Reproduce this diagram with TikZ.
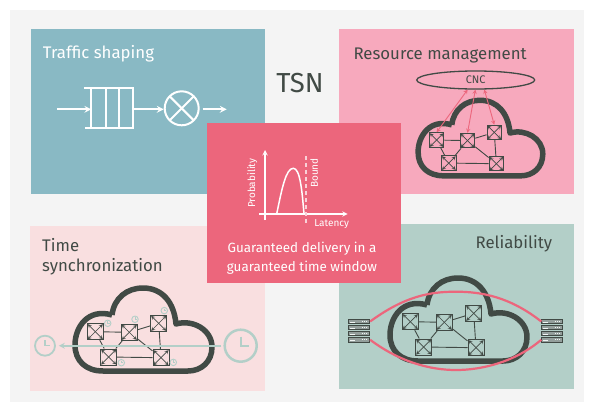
\documentclass[tikz,border=0pt]{standalone}
\usepackage{fontspec}
\setmainfont{Fira Sans}
\usetikzlibrary{shapes.geometric, arrows}
\definecolor{bgGray}{HTML}{F4F4F4}
\definecolor{tealBlue}{HTML}{89B9C4}
\definecolor{rosePink}{HTML}{F7A9BD}
\definecolor{coralRed}{HTML}{EC667C}
\definecolor{palePink}{HTML}{F9DFE0}
\definecolor{sageGreen}{HTML}{B3CFC8}
\definecolor{darkSlate}{HTML}{414A45}
\tikzstyle{arrow} = [line width=2pt,->,>=stealth]
\tikzstyle{title} = [font=\fontsize{16.8}{20}\selectfont,inner sep=0pt]
\tikzstyle{small} = [font=\fontsize{10}{12}\selectfont,inner sep=0pt,text=white]
\tikzstyle{switchbox} = [draw=darkSlate,line width=1pt,minimum size=16pt,inner sep=0pt,
	path picture={\draw[darkSlate,line width=0.7pt,<->,>=stealth,shorten >=0.6pt,shorten <=0.6pt]
		(path picture bounding box.north west) -- (path picture bounding box.south east);
		\draw[darkSlate,line width=0.7pt,<->,>=stealth,shorten >=0.6pt,shorten <=0.6pt]
		(path picture bounding box.north east) -- (path picture bounding box.south west);}]
\tikzstyle{link} = [darkSlate,line width=0.9pt]
\tikzstyle{cnclink} = [coralRed,line width=0.9pt,<->,>=stealth]
\tikzstyle{clock} = [circle,draw=sageGreen,inner sep=0pt]
\tikzstyle{rackbar} = [draw=darkSlate,fill=gray!60!sageGreen,line width=0.9pt,minimum width=21pt,minimum height=4.4pt,inner sep=0pt]
\tikzstyle{redundant} = [coralRed,line width=2.2pt]

\newcommand{\tsncloud}[4]{
	\begin{scope}[shift={(#2,#3)},scale=#4,transform shape]
		\draw [darkSlate,line width=5.5pt,line join=round] (-31,-15) .. controls (-29,-32) and (-16,-42) .. (0,-42)
			.. controls (19,-42) and (31,-28) .. (33,-6)
			.. controls (50,-11) and (69,0) .. (69,17)
			.. controls (69,32) and (58,41) .. (45,41) -- (-40,41)
			.. controls (-57,41) and (-68,31) .. (-68,15)
			.. controls (-68,-3) and (-55,-22) .. (-31,-15);
		\node [switchbox] (#1a) at (-47.7,1.7) {};
		\node [switchbox] (#1b) at (-13.7,2.3) {};
		\node [switchbox] (#1c) at (15.7,-6.7) {};
		\node [switchbox] (#1d) at (-34.3,27) {};
		\node [switchbox] (#1e) at (18,27.7) {};
		\draw [link] (#1a) -- (#1b);
		\draw [link] (#1b) -- (#1c);
		\draw [link] (#1a) -- (#1d);
		\draw [link] (#1b) -- (#1d);
		\draw [link] (#1b) -- (#1e);
		\draw [link] (#1d) -- (#1e);
		\draw [link] (#1c) -- (#1e);
	\end{scope}
}
\newcommand{\smallclock}[3]{
	\node [clock,line width=0.9pt,minimum size=6.5pt] (#1) at (#2,#3) {};
	\draw [sageGreen,line width=0.5pt] (#1.center) ++(0,-2) -- (#1.center) -- ++(1.8,0);
}
\newcommand{\rackstack}[2]{
	\foreach \i/\yy in {1/0,2/6.1,3/12.2,4/18.3} {
		\node [rackbar] (#1\i) at (#2,321.5+\yy) {};
		\fill [white!80!sageGreen] (#1\i.west) ++(2,0) rectangle ++(5,0.6);
		\foreach \dd in {14,16,18}
			\fill [white!80!sageGreen] (#1\i.west) ++(\dd,-0.5) rectangle ++(1,1);
	}
}

\begin{document}
\begin{tikzpicture}[x=1pt,y=-1pt]
	\useasboundingbox (0,0) rectangle (590,402);
	\fill [bgGray] (10,10) rectangle (584,402);
	\fill [tealBlue] (31,29) rectangle (265,194);
	\fill [rosePink] (339,29) rectangle (574,194);
	\fill [palePink] (30,226) rectangle (265,391);
	\fill [sageGreen] (339,224) rectangle (574,389);

	\node [title,anchor=west,text=white] (shapingtitle) at (42.7,53.7) {Traffic shaping};
	\coordinate (inleft) at (57.3,109.3);
	\node [minimum width=41pt,minimum height=39pt,inner sep=0pt] (queue) at (112,108) {};
	\draw [white,line width=2pt] (queue.north west) ++(-7,0) -- (queue.north east) -- (queue.south east) -- ++(-48,0);
	\draw [white,line width=2pt] (queue.north west) -- (queue.south west);
	\draw [white,line width=2pt] (105.7,88.5) -- (105.7,127.5);
	\draw [white,line width=2pt] (119,88.5) -- (119,127.5);
	\node [circle,draw=white,line width=2pt,minimum size=34pt,inner sep=0pt,
		path picture={\draw[white,line width=2pt] (path picture bounding box.north west) -- (path picture bounding box.south east);
		\draw[white,line width=2pt] (path picture bounding box.north east) -- (path picture bounding box.south west);}] (mux) at (181.7,108.3) {};
	\coordinate (outright) at (226.7,109.3);
	\draw [arrow,white] (inleft) -- (queue.west |- inleft);
	\draw [arrow,white,shorten <=1.5pt] (queue.east |- inleft) -- (mux.west |- inleft);
	\draw [arrow,white,shorten <=3pt] (mux.east |- outright) -- (outright);

	\node [font=\fontsize{27.5}{32}\selectfont,text=darkSlate,inner sep=0pt] (tsn) at (300,83) {TSN};

	\node [title,anchor=west,text=darkSlate] (resourcetitle) at (353.3,55) {Resource management};
	\tsncloud{r}{480}{138.5}{0.91}
	\node [draw=darkSlate,line width=1.3pt,ellipse,minimum width=118pt,minimum height=18pt,inner sep=0pt,text=darkSlate,
		font=\fontsize{11}{12}\selectfont] (cnc) at (475.7,80) {CNC};
	\draw [cnclink] (cnc.-130) -- (ra.north);
	\draw [cnclink] (cnc.-92) -- (rb.north);
	\draw [cnclink] (cnc.-48) -- (rc.north);

	\tsncloud{t}{143}{330}{1}
	\node [title,anchor=west,text=darkSlate] (timetitle) at (42,245) {Time};
	\node [title,anchor=west,text=darkSlate] (synctitle) at (42,266.7) {synchronization};
	\node [clock,line width=2.5pt,minimum size=32pt] (masterclock) at (240.7,345.7) {};
	\draw [sageGreen,line width=2pt] (masterclock.center) ++(0,-9) -- (masterclock.center) -- ++(8,0);
	\node [clock,line width=1.8pt,minimum size=20pt] (slaveclock) at (45,345.7) {};
	\draw [sageGreen,line width=1.4pt] (slaveclock.center) ++(0,-5.5) -- (slaveclock.center) -- ++(5,0);
	\draw [arrow,sageGreen,line width=1.6pt,shorten <=2pt,shorten >=3pt] (masterclock) -- (slaveclock);
	\smallclock{ca}{107.7}{323.3}
	\smallclock{cb}{135}{319.3}
	\smallclock{cc}{164.3}{310.6}
	\smallclock{cd}{121.3}{362.7}
	\smallclock{ce}{173.3}{362.4}

	\tsncloud{s}{458}{320}{1}
	\rackstack{lr}{359.2}
	\rackstack{rr}{552.2}
	\draw [redundant] (lr1.east) .. controls (405,296) and (430,291.7) .. (456,291.7) .. controls (482,291.7) and (510,297) .. (rr1.west);
	\draw [redundant] (lr4.east) .. controls (400,362) and (430,370) .. (456,370) .. controls (482,370) and (515,362) .. (rr4.west);
	\node [title,anchor=east,text=darkSlate] (reliabilitytitle) at (552.3,244) {Reliability};

	\fill [coralRed] (207,123) rectangle (401,283);
	\node [small,rotate=90] (problabel) at (252.3,183.3) {Probability};
	\node [small,rotate=90] (boundlabel) at (314.3,173) {Bound};
	\node [small] (latencylabel) at (331.7,224.3) {Latency};
	\coordinate (yfoot) at (265,220);
	\coordinate (ytop) at (265,150);
	\coordinate (xfoot) at (259.3,214);
	\coordinate (xtip) at (347.7,214);
	\draw [arrow,white,line width=1.4pt] (yfoot) -- (ytop);
	\draw [arrow,white,line width=1.4pt] (xfoot) -- (xtip);
	\draw [white,line width=1.5pt] (276.7,214) .. controls (282,188) and (286,168.3) .. (293.3,168.3) .. controls (300,168.3) and (302,190) .. (304,214);
	\draw [white!70!coralRed,line width=1.2pt,dash pattern=on 4pt off 3pt] (306,156) -- (306,224);
	\node [font=\fontsize{13.4}{18.7}\selectfont,text=white,align=center,inner sep=0pt] (guarantee) at (302,258.3) {Guaranteed delivery in a\\guaranteed time window};
\end{tikzpicture}
\end{document}
